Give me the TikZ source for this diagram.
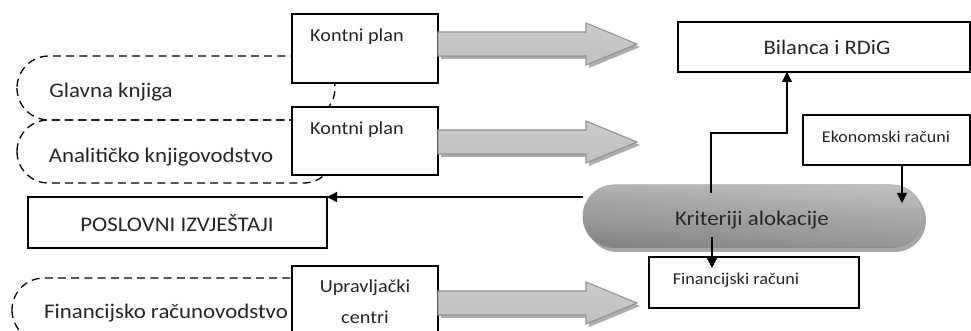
\documentclass[tikz,border=0pt]{standalone}
\usepackage{fontspec}
\setmainfont{Carlito}[FakeStretch=1.1]
\usetikzlibrary{arrows.meta,calc,fit}

\tikzset{
  box/.style={draw=black, fill=white, line width=0.6pt, inner sep=0pt, outer sep=0pt},
  ledger/.style={draw=black, line width=0.65pt, dash pattern=on 4pt off 2.6pt},
  conn/.style={draw=black, line width=0.65pt, -{Triangle[length=5pt,width=5pt]}},
  lbl/.style={inner sep=0pt, text=black!85},
  fs/.style={font=\fontsize{#1}{#1}\selectfont},
  pics/fatarrow/.style={code={
    % soft drop shadow
    \fill[black, opacity=.32] (3,-9) -- (151,-9) -- (151,-18) -- (202,3)
         -- (151,24) -- (151,15) -- (3,15) -- cycle;
    % shaded body with grey outline
    \shadedraw[draw=gray!85, line width=0.55pt,
        top color=gray!40, middle color=gray!6, bottom color=gray!50]
        (0,-12) -- (148,-12) -- (148,-21) -- (199,0) -- (148,21)
        -- (148,12) -- (0,12) -- cycle;
  }}
}

\begin{document}
\begin{tikzpicture}[x=0.5pt,y=-0.5pt]
\useasboundingbox (0,0) rectangle (971,331);
\clip (0,0) rectangle (971,331);

% dashed ledger outlines (partly hidden behind the boxes)
\draw[ledger, rounded corners=16pt] (17,56) rectangle (335,120);
\draw[ledger, rounded corners=15.75pt] (17,120) rectangle (335,183);
\draw[ledger, rounded corners=16pt] (12,278) rectangle (335,342);

\node[lbl, fs=10.4] (glk) at (111,92) {Glavna knjiga};
\node[lbl, fs=10.4] (ank) at (161,157) {Analitičko knjigovodstvo};
\node[lbl, fs=10.4] (frc) at (166,313) {Financijsko računovodstvo};

% source boxes
\node[box, fit={(292,14) (438,83)}] (kp1) {};
\node[box, fit={(292,107) (438,175)}] (kp2) {};
\node[box, fit={(292,266) (438,345)}] (upc) {};
\node[lbl, fs=9.2] at (357,37) {Kontni plan};
\node[lbl, fs=9.2] at (357,130) {Kontni plan};
\node[lbl, fs=9.2] at (365,288) {Upravljački};
\node[lbl, fs=9.2] at (365,317) {centri};

% broad flow arrows
\pic at (438,44) {fatarrow};
\pic at (438,142) {fatarrow};
\pic at (438,303) {fatarrow};

% report boxes
\node[box, fit={(678,22) (970,72)}] (bil) {};
\node[lbl, fs=10.3] at (827,47) {Bilanca i RDiG};
\node[box, fit={(803,115) (970,165)}] (eko) {};
\node[lbl, fs=8.2] at (886,137) {Ekonomski računi};
\node[box, fit={(28,197) (327,248)}] (pos) {};
\node[lbl, fs=10.4] at (177,223) {POSLOVNI IZVJEŠTAJI};

% allocation criteria capsule
\fill[black, opacity=.35, rounded corners=15.75pt] (586,189) rectangle (926,252);
\node[rectangle, rounded corners=15.75pt, draw=gray!70, line width=0.5pt, inner sep=0pt,
      left color=gray!75, middle color=gray!30, right color=gray!58,
      fit={(583,185) (923,248)}] (kri) {};
\shade[rounded corners=15.75pt, top color=white, bottom color=black, fill opacity=.18]
      (583,185) rectangle (923,248);
\node[lbl, fs=10.4] at (752,220) {Kriteriji alokacije};

\node[box, fit={(649,257) (859,308)}] (fin) {};
\node[lbl, fs=8.3] at (736,280) {Financijski računi};

% connectors
\coordinate (upx) at (787,133);
\coordinate (up0) at (711,193);
\coordinate (ekx) at (902,203);
\coordinate (fn0) at (712,237);
\coordinate (fn1) at (712,268);
\draw[conn] (up0) |- (upx) -- (upx |- bil.south);
\draw[conn] (ekx |- eko.south) -- (ekx);
\draw[conn] (fn0) -- (fn1);
\draw[conn] (kri.west |- pos.north east) -- (pos.north east);
\end{tikzpicture}
\end{document}
